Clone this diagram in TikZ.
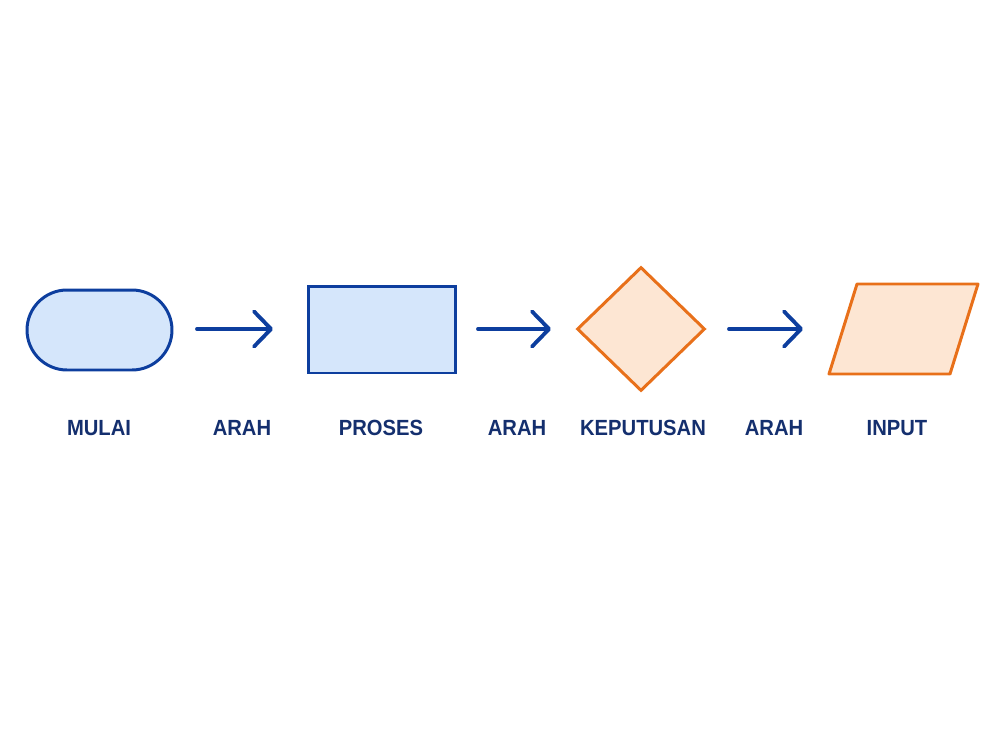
\documentclass[tikz,border=0pt]{standalone}
\usepackage{fontspec}
\setmainfont{Liberation Sans}
\usetikzlibrary{shapes.geometric,arrows.meta}
\definecolor{navy}{HTML}{0D3E9E}
\definecolor{bluefill}{HTML}{D5E6FB}
\definecolor{orng}{HTML}{E8701A}
\definecolor{orngfill}{HTML}{FDE6D3}
\definecolor{labelc}{HTML}{142F6E}
\tikzset{
  bluebox/.style={draw=navy,fill=bluefill,line width=1.7pt},
  orngbox/.style={draw=orng,fill=orngfill,line width=1.7pt},
  lbl/.style={text=labelc,font=\fontsize{12.5}{15}\selectfont\bfseries,xscale=0.92},
  flow/.style={draw=navy,line width=2.2pt,line cap=round,-{Straight Barb[length=3.4mm,width=7mm,line cap=round,line join=round]}}
}
\begin{document}
\begin{tikzpicture}[x=0.02cm,y=-0.02cm]
\useasboundingbox (0,0) rectangle (1000,750);
% shapes
\node[bluebox,rounded corners=0.8cm,minimum width=2.9cm,minimum height=1.6cm] (mulai) at (99.5,330) {};
\node[bluebox,minimum width=2.96cm,minimum height=1.74cm] (proses) at (382,329.5) {};
\node[orngbox,diamond,minimum width=2.56cm,minimum height=2.48cm,inner sep=0pt] (keputusan) at (641,329) {};
\draw[orngbox,line join=round] (857,284) -- (978,284) -- (950,374) -- (829,374) -- cycle;
\coordinate (input) at (903.5,329);
% arrows
\coordinate (a1) at (197,329); \coordinate (b1) at (273,329);
\coordinate (a2) at (478,329); \coordinate (b2) at (551,329);
\coordinate (a3) at (729,329); \coordinate (b3) at (803,329);
\draw[flow] (a1) -- (b1);
\draw[flow] (a2) -- (b2);
\draw[flow] (a3) -- (b3);
% labels
\node[lbl] (l1) at (99,428) {MULAI};
\node[lbl] (l2) at (242,428) {ARAH};
\node[lbl] (l3) at (381,428) {PROSES};
\node[lbl] (l4) at (517,428) {ARAH};
\node[lbl] (l5) at (643,428) {KEPUTUSAN};
\node[lbl] (l6) at (774,428) {ARAH};
\node[lbl] (l7) at (897,428) {INPUT};
\end{tikzpicture}
\end{document}
